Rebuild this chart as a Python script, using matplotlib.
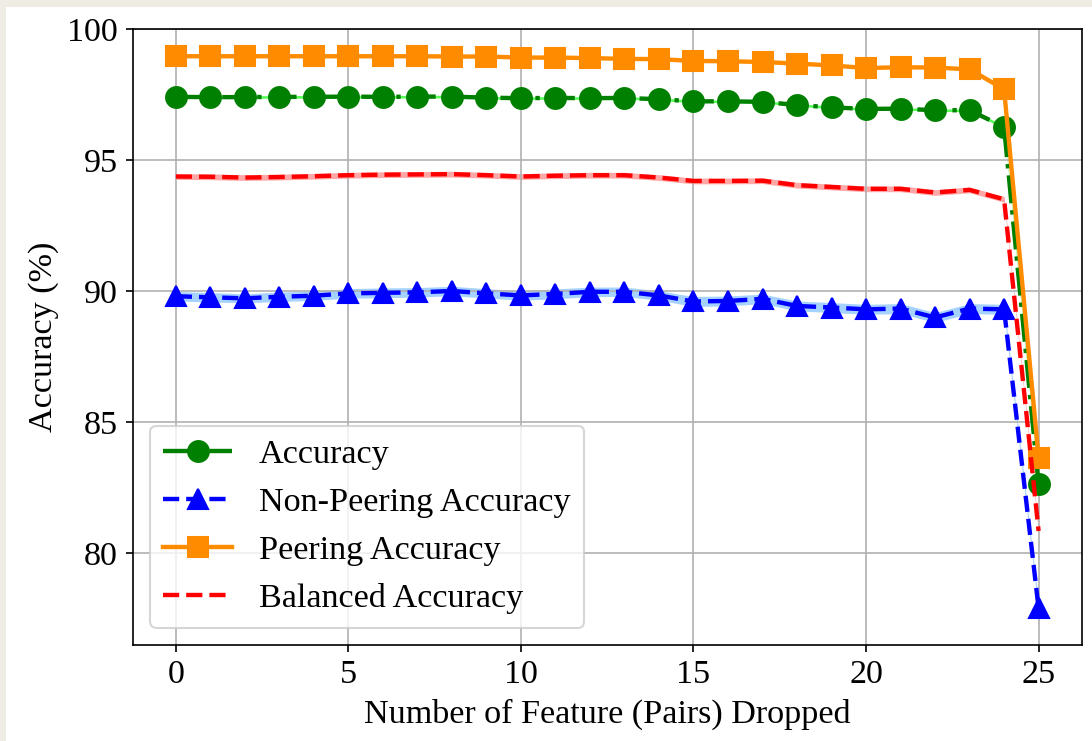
import matplotlib
matplotlib.use('Agg')
import matplotlib.pyplot as plt
from matplotlib.patches import Rectangle

# Data: accuracy (%) vs number of feature pairs dropped
n_dropped = list(range(26))

acc_mean = [97.42, 97.41, 97.41, 97.42, 97.42, 97.43, 97.42, 97.43, 97.43, 97.39,
            97.37, 97.38, 97.37, 97.38, 97.33, 97.25, 97.25, 97.23, 97.11, 97.02,
            96.96, 96.97, 96.91, 96.91, 96.27, 82.63]
acc_std = [0.05, 0.05, 0.05, 0.05, 0.05, 0.05, 0.05, 0.05, 0.05, 0.05,
           0.05, 0.05, 0.05, 0.05, 0.05, 0.05, 0.05, 0.05, 0.05, 0.05,
           0.05, 0.05, 0.05, 0.05, 0.06, 0.10]

nonpeer_mean = [89.81, 89.77, 89.73, 89.79, 89.83, 89.92, 89.94, 89.96, 90.01, 89.92,
                89.84, 89.90, 89.98, 89.98, 89.84, 89.61, 89.63, 89.71, 89.44, 89.38,
                89.31, 89.34, 89.00, 89.34, 89.31, 77.90]
nonpeer_std = [0.18, 0.18, 0.17, 0.18, 0.18, 0.18, 0.19, 0.18, 0.18, 0.18,
               0.18, 0.19, 0.18, 0.18, 0.18, 0.19, 0.19, 0.18, 0.19, 0.19,
               0.19, 0.19, 0.19, 0.19, 0.19, 0.18]

peer_mean = [98.97, 98.97, 98.97, 98.97, 98.97, 98.97, 98.97, 98.97, 98.96, 98.96,
             98.92, 98.92, 98.90, 98.87, 98.86, 98.79, 98.78, 98.75, 98.69, 98.62,
             98.52, 98.55, 98.54, 98.47, 97.71, 83.65]
peer_std = [0.02, 0.02, 0.02, 0.02, 0.02, 0.02, 0.02, 0.02, 0.02, 0.02,
            0.02, 0.02, 0.02, 0.02, 0.02, 0.02, 0.02, 0.02, 0.02, 0.02,
            0.02, 0.02, 0.02, 0.02, 0.03, 0.10]

bal_mean = [94.38, 94.37, 94.34, 94.36, 94.39, 94.43, 94.45, 94.46, 94.47, 94.43,
            94.38, 94.41, 94.43, 94.43, 94.34, 94.21, 94.21, 94.22, 94.05, 93.98,
            93.91, 93.91, 93.77, 93.87, 93.51, 80.85]
bal_std = [0.11, 0.11, 0.11, 0.11, 0.11, 0.11, 0.11, 0.11, 0.11, 0.11,
           0.11, 0.11, 0.11, 0.11, 0.11, 0.11, 0.11, 0.11, 0.11, 0.11,
           0.11, 0.11, 0.11, 0.11, 0.11, 0.11]

plt.rcParams['font.family'] = ['Liberation Serif', 'DejaVu Serif']
plt.rcParams['font.size'] = 16.4

fig = plt.figure(figsize=(7.28, 4.94), dpi=150, facecolor='#efece3')
# white page with a thin beige margin on the left and top
fig.add_artist(Rectangle((6 / 1092, 0), 1, 1 - 7 / 741, transform=fig.transFigure,
                         facecolor='white', edgecolor='none', zorder=-1))
ax = fig.add_axes([0.1215, 0.1296, 0.8691, 0.8309])


def band(mean, std, color, alpha):
    lo = [m - s for m, s in zip(mean, std)]
    hi = [m + s for m, s in zip(mean, std)]
    ax.fill_between(n_dropped, lo, hi, color=color, alpha=alpha, linewidth=0)


band(acc_mean, acc_std, 'lime', 0.65)
band(nonpeer_mean, nonpeer_std, 'dodgerblue', 0.4)
band(peer_mean, peer_std, 'darkorange', 0.3)
band(bal_mean, bal_std, 'red', 0.35)

ax.plot(n_dropped, acc_mean, '-.', color='green', marker='o', markersize=10,
        linewidth=2.1, label='Accuracy')
ax.plot(n_dropped, nonpeer_mean, '--', color='blue', marker='^', markersize=10,
        linewidth=2.1, label='Non-Peering Accuracy')
ax.plot(n_dropped, peer_mean, '-', color='darkorange', marker='s', markersize=10,
        linewidth=2.1, label='Peering Accuracy')
ax.plot(n_dropped, bal_mean, '--', color='red', linewidth=2.1, label='Balanced Accuracy')

ax.set_xlim(-1.25, 26.25)
ax.set_ylim(76.5, 100)
ax.set_xticks([0, 5, 10, 15, 20, 25])
ax.set_yticks([80, 85, 90, 95, 100])
ax.set_xlabel('Number of Feature (Pairs) Dropped')
ax.set_ylabel('Accuracy (%)')
ax.grid(True)
ax.legend(loc='lower left')

fig.savefig('out.png', dpi=150, facecolor=fig.get_facecolor())
